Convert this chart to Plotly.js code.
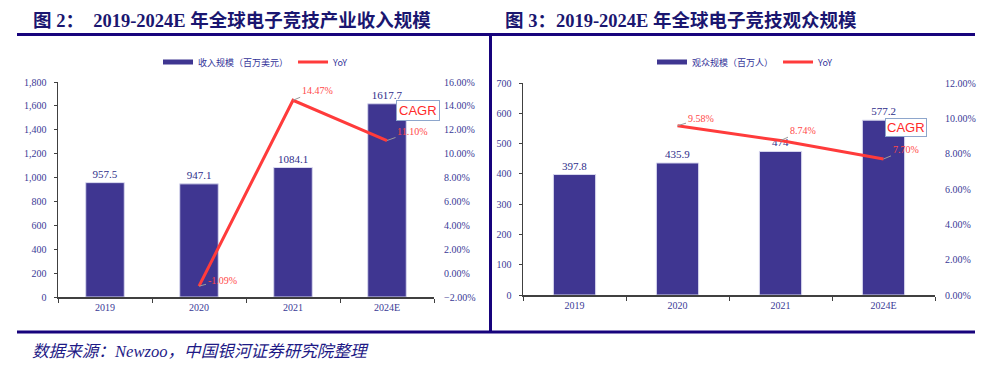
<!DOCTYPE html>
<html>
<head>
<meta charset="utf-8">
<script src="https://cdn.plot.ly/plotly-3.0.1.min.js"></script>
<style>
  html, body { margin: 0; padding: 0; background: #fff; }
  #chart { width: 989px; height: 387px; }
  #chart g[class^="legend"] .traces { opacity: 1 !important; }
</style>
</head>
<body>
<div id="chart"></div>
<script>
// ---- data ----
const categories = ['2019', '2020', '2021', '2024E'];
const revenue = [957.5, 947.1, 1084.1, 1617.7];          // 收入规模（百万美元）
const revenueYoyCats = ['2020', '2021', '2024E'];
const revenueYoy = [-1.09, 14.47, 11.10];                 // YoY %
const audience = [397.8, 435.9, 474, 577.2];              // 观众规模（百万人）
const audienceYoyCats = ['2020', '2021', '2024E'];
const audienceYoy = [9.58, 8.74, 7.70];                   // YoY %
const revenueName = '收入规模（百万美元）';
const audienceName = '观众规模（百万人）';
const titleLeft = '图 2：  2019-2024E 年全球电子竞技产业收入规模';
const titleRight = '图 3：2019-2024E 年全球电子竞技观众规模';
const sourceText = '数据来源：Newzoo，中国银河证券研究院整理';

// ---- styles ----
const W = 989, H = 387;
const px = v => v / W;
const py = v => 1 - v / H;
const barColor = '#3f3691';
const lineColor = '#ff3b3b';
const tickColor = '#3a3a96';
const navy = '#17037c';
const serif = 'Liberation Serif, Times New Roman, Noto Sans CJK SC, serif';
const cjk = 'Noto Sans CJK SC, sans-serif';
const catIndex = c => categories.indexOf(c);

const traces = [
  {
    type: 'bar', x: categories, y: revenue, xaxis: 'x', yaxis: 'y',
    marker: { color: barColor, line: { color: '#d8d8ee', width: 1 } },
    text: revenue.map(v => String(v)), textposition: 'outside', cliponaxis: false,
    textfont: { family: serif, size: 11, color: '#2e2e8a' },
    showlegend: false, name: revenueName
  },
  { // legend entry drawn as a thick bar-coloured line (legend only)
    type: 'scatter', mode: 'lines', x: categories, y: revenue, xaxis: 'x', yaxis: 'y',
    visible: 'legendonly', line: { color: barColor, width: 5 }, name: revenueName, legend: 'legend'
  },
  {
    type: 'scatter', mode: 'lines', x: revenueYoyCats, y: revenueYoy, xaxis: 'x', yaxis: 'y2',
    line: { color: lineColor, width: 3 }, name: 'YoY', legend: 'legend', cliponaxis: false
  },
  {
    type: 'bar', x: categories, y: audience, xaxis: 'x2', yaxis: 'y3',
    marker: { color: barColor, line: { color: '#d8d8ee', width: 1 } },
    text: audience.map(v => String(v)), textposition: 'outside', cliponaxis: false,
    textfont: { family: serif, size: 11, color: '#2e2e8a' },
    showlegend: false, name: audienceName
  },
  {
    type: 'scatter', mode: 'lines', x: categories, y: audience, xaxis: 'x2', yaxis: 'y3',
    visible: 'legendonly', line: { color: barColor, width: 5 }, name: audienceName, legend: 'legend2'
  },
  {
    type: 'scatter', mode: 'lines', x: audienceYoyCats, y: audienceYoy, xaxis: 'x2', yaxis: 'y4',
    line: { color: lineColor, width: 3 }, name: 'YoY', legend: 'legend2', cliponaxis: false
  }
];

const xAxisCommon = {
  type: 'category', categoryorder: 'array', categoryarray: categories,
  range: [-0.5, categories.length - 0.5], autorange: false,
  showline: true, linecolor: '#404040', linewidth: 1.5,
  ticks: 'outside', tickson: 'boundaries', ticklen: 4, tickcolor: '#404040',
  showgrid: false, zeroline: false, fixedrange: true, tickangle: 0,
  tickfont: { family: serif, size: 10, color: tickColor }
};
const yLeftCommon = {
  showline: true, linecolor: '#404040', linewidth: 1.5,
  ticks: 'outside', ticklen: 3, tickcolor: '#404040',
  showgrid: false, zeroline: false, fixedrange: true,
  tickfont: { family: serif, size: 10, color: tickColor }, ticklabelstandoff: 5
};
const yRightCommon = {
  showline: false, ticks: '', showgrid: false, zeroline: false, fixedrange: true,
  tickformat: '.2f', ticksuffix: '%',
  tickfont: { family: serif, size: 10, color: tickColor }, ticklabelstandoff: 9
};

const dom1x = [px(58), px(434)], dom1y = [py(297), py(82)];
const dom2x = [px(523), px(935)], dom2y = [py(295), py(83)];

function yoyAnnotations(cats, vals, xref, yref, offsets) {
  return cats.map((c, i) => ({
    x: catIndex(c), y: vals[i], xref: xref, yref: yref,
    text: vals[i].toFixed(2) + '%', showarrow: true,
    ax: offsets[i][0], ay: offsets[i][1], arrowhead: 0, arrowwidth: 1,
    arrowcolor: '#9a9a9a', standoff: 0, startstandoff: 0,
    font: { family: serif, size: 10, color: '#ff4848' }
  }));
}

const annotations = [
  { xref: 'paper', yref: 'paper', x: px(31), y: py(20), xanchor: 'left', yanchor: 'middle',
    text: '<b>' + titleLeft + '</b>', showarrow: false,
    font: { family: serif, size: 18.5, color: '#1a1670' } },
  { xref: 'paper', yref: 'paper', x: px(503), y: py(20), xanchor: 'left', yanchor: 'middle',
    text: '<b>' + titleRight + '</b>', showarrow: false,
    font: { family: serif, size: 18.5, color: '#1a1670' } },
  { xref: 'paper', yref: 'paper', x: px(30), y: py(351), xanchor: 'left', yanchor: 'middle',
    text: '<i>' + sourceText + '</i>', showarrow: false,
    font: { family: serif, size: 16.6, color: '#1e1a86' } },
  // CAGR callouts
  { xref: 'x', yref: 'y2', x: catIndex('2024E'), y: 13.6, xshift: 31, text: 'CAGR', showarrow: false,
    bgcolor: '#ffffff', bordercolor: '#8ea6cc', borderwidth: 1, borderpad: 2,
    font: { family: 'Liberation Sans, Arial, sans-serif', size: 13, color: '#ff2a2a' } },
  { xref: 'x2', yref: 'y4', x: catIndex('2024E'), y: 9.5, xshift: 22, text: 'CAGR', showarrow: false,
    bgcolor: '#ffffff', bordercolor: '#8ea6cc', borderwidth: 1, borderpad: 1,
    font: { family: 'Liberation Sans, Arial, sans-serif', size: 13, color: '#ff2a2a' } }
].concat(
  yoyAnnotations(revenueYoyCats, revenueYoy, 'x', 'y2', [[23, -6], [24, -10], [25, -9]]),
  yoyAnnotations(audienceYoyCats, audienceYoy, 'x2', 'y4', [[23, -7], [22, -10], [22, -9]])
);

const shapes = [
  { type: 'line', xref: 'paper', yref: 'paper', x0: px(17), x1: px(975), y0: py(34.5), y1: py(34.5),
    line: { color: navy, width: 3 } },
  { type: 'line', xref: 'paper', yref: 'paper', x0: px(490.5), x1: px(490.5), y0: py(34.5), y1: py(332),
    line: { color: navy, width: 3 } },
  { type: 'line', xref: 'paper', yref: 'paper', x0: px(17), x1: px(975), y0: py(332), y1: py(332),
    line: { color: navy, width: 3 } }
];

const legendCommon = {
  orientation: 'h', xanchor: 'left', yanchor: 'middle',
  font: { family: cjk, size: 9, color: '#333399' },
  bgcolor: 'rgba(0,0,0,0)', itemwidth: 30, tracegroupgap: 0
};

const layout = {
  width: W, height: H,
  margin: { l: 0, r: 0, t: 0, b: 0 },
  paper_bgcolor: '#ffffff', plot_bgcolor: '#ffffff',
  bargap: 0.59,
  xaxis: Object.assign({}, xAxisCommon, { domain: dom1x, anchor: 'y' }),
  yaxis: Object.assign({}, yLeftCommon, { domain: dom1y, anchor: 'x', range: [0, 1800], dtick: 200, tickformat: ',' }),
  yaxis2: Object.assign({}, yRightCommon, { overlaying: 'y', side: 'right', anchor: 'x', range: [-2, 16], dtick: 2 }),
  xaxis2: Object.assign({}, xAxisCommon, { domain: dom2x, anchor: 'y3' }),
  yaxis3: Object.assign({}, yLeftCommon, { domain: dom2y, anchor: 'x2', range: [0, 700], dtick: 100 }),
  yaxis4: Object.assign({}, yRightCommon, { overlaying: 'y3', side: 'right', anchor: 'x2', range: [0, 12], dtick: 2 }),
  legend: Object.assign({}, legendCommon, { x: px(158), y: py(62) }),
  legend2: Object.assign({}, legendCommon, { x: px(652), y: py(62) }),
  annotations: annotations,
  shapes: shapes,
  showlegend: true
};

Plotly.newPlot('chart', traces, layout, { displayModeBar: false, staticPlot: true });
</script>
</body>
</html>
